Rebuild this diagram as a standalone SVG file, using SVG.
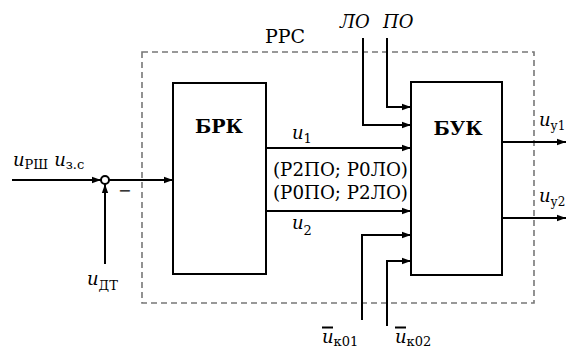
<svg xmlns="http://www.w3.org/2000/svg" width="566" height="352" viewBox="0 0 566 352">
<style>
.box{fill:#fff;stroke:#000;stroke-width:2}
.ln{fill:none;stroke:#000;stroke-width:2}
.dash{fill:none;stroke:#777;stroke-width:1.6;stroke-dasharray:6 4}
text{font-family:'DejaVu Serif','Liberation Serif',serif;fill:#000}
.b{font-weight:bold;font-size:19px}
.i{font-style:italic;font-size:18px}
.s{font-size:13px}
</style>
<defs>
<marker id="ah" viewBox="0 0 10 10" refX="10" refY="5" markerWidth="4.5" markerHeight="4.5" markerUnits="strokeWidth" orient="auto">
<path d="M0,1.5 L10,5 L0,8.5 z" fill="#000"/>
</marker>
</defs>
<rect class="dash" x="142" y="52" width="392" height="251"/>
<text x="265" y="43" font-size="19">РРС</text>
<g id="brk">
<rect class="box" x="173" y="83" width="93" height="191"/>
<text class="b" x="219" y="133" text-anchor="middle">БРК</text>
</g>
<g id="buk">
<rect class="box" x="411" y="82" width="91" height="193"/>
<text class="b" x="458" y="135" text-anchor="middle">БУК</text>
</g>
<g id="sum">
<circle cx="105" cy="180" r="4" fill="#fff" stroke="#000" stroke-width="2"/>
<text x="118" y="196" font-size="16">−</text>
</g>
<g id="connectors">
<path class="ln" d="M12,180 H101" marker-end="url(#ah)"/>
<path class="ln" d="M109,180 H173" marker-end="url(#ah)"/>
<path class="ln" d="M105,264 V184" marker-end="url(#ah)"/>
<path class="ln" d="M266,148 H411" marker-end="url(#ah)"/>
<path class="ln" d="M266,211 H411" marker-end="url(#ah)"/>
<path class="ln" d="M363,38 V125 H411" marker-end="url(#ah)"/>
<path class="ln" d="M387,38 V107 H411" marker-end="url(#ah)"/>
<path class="ln" d="M362,320 V235 H411" marker-end="url(#ah)"/>
<path class="ln" d="M387,326 V261 H411" marker-end="url(#ah)"/>
<path class="ln" d="M502,142 H566" marker-end="url(#ah)"/>
<path class="ln" d="M502,218 H566" marker-end="url(#ah)"/>
</g>
<g id="labels">
<text x="13" y="166"><tspan class="i">u</tspan><tspan class="s" dy="3">РШ</tspan><tspan class="i" dx="6" dy="-3">u</tspan><tspan class="s" dy="3">з.с</tspan></text>
<text x="87" y="285"><tspan class="i">u</tspan><tspan class="s" dy="5">ДТ</tspan></text>
<text class="i" x="340" y="28">ЛО</text>
<text class="i" x="383" y="28">ПО</text>
<text x="292" y="139"><tspan class="i">u</tspan><tspan class="s" dy="4">1</tspan></text>
<text x="292" y="229"><tspan class="i">u</tspan><tspan class="s" dy="6">2</tspan></text>
<text x="273" y="176" font-size="18" textLength="135" lengthAdjust="spacingAndGlyphs">(Р2ПО; Р0ЛО)</text>
<text x="273" y="199" font-size="18" textLength="135" lengthAdjust="spacingAndGlyphs">(Р0ПО; Р2ЛО)</text>
<text x="322" y="343"><tspan class="i">u</tspan><tspan class="s" dy="3">к01</tspan></text>
<path class="ln" d="M322,327.5 H333" stroke-width="1.2"/>
<text x="395" y="343"><tspan class="i">u</tspan><tspan class="s" dy="3">к02</tspan></text>
<path class="ln" d="M395,327.5 H406" stroke-width="1.2"/>
<text x="539" y="126"><tspan class="i">u</tspan><tspan font-size="12" dy="4">у1</tspan></text>
<text x="539" y="202"><tspan class="i">u</tspan><tspan font-size="12" dy="4">у2</tspan></text>
</g>
</svg>
